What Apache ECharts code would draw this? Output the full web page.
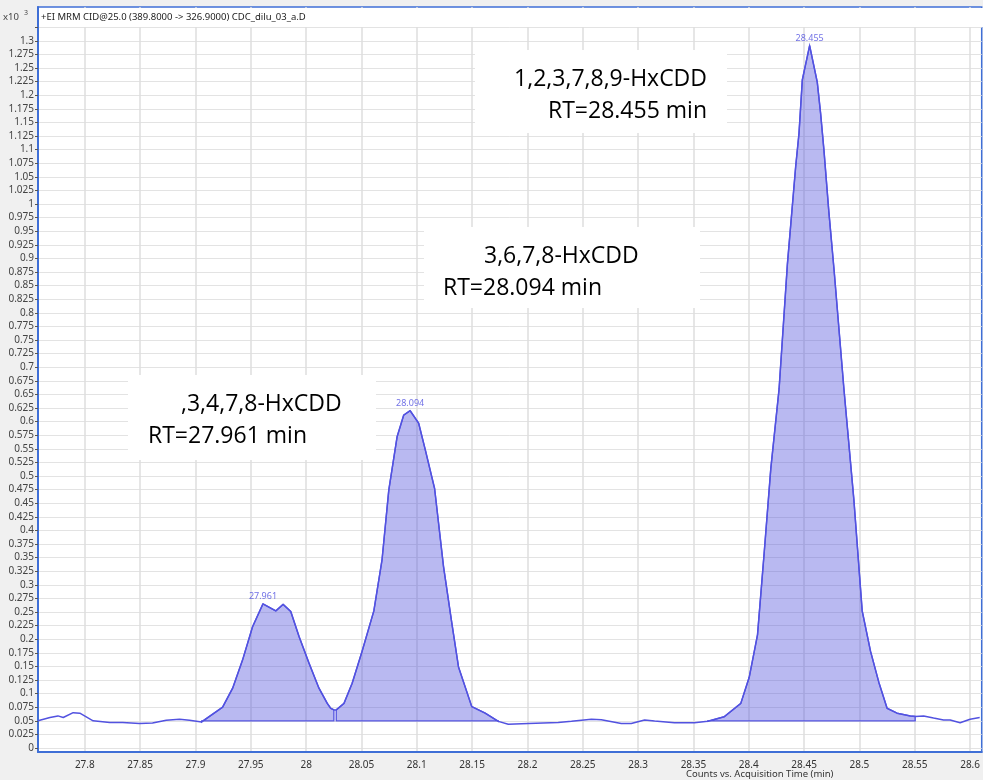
<!DOCTYPE html>
<html>
<head>
<meta charset="utf-8">
<script src="https://cdn.jsdelivr.net/npm/echarts@6/dist/echarts.min.js"></script>
<style>
  html, body { margin: 0; padding: 0; background: #f0f0f0; }
  #chart { width: 983px; height: 780px; }
</style>
</head>
<body>
<div id="chart"></div>
<script>
// Acquisition time (min) of each trace point
const times = [
  27.7577, 27.7685, 27.7757, 27.7805, 27.7895, 27.7955, 27.8075, 27.8225, 27.8342, 27.8495, 27.8612, 27.8736, 27.8856, 27.8946, 27.9056,
  27.9245, 27.9336, 27.9426, 27.9516, 27.961, 27.9726, 27.9792, 27.9861, 27.9936, 28.0026, 28.0116, 28.0191, 28.0222, 28.0251,
  28.0272, 28.0342, 28.0416, 28.0506, 28.0612, 28.0686, 28.0747, 28.0822, 28.0882, 28.094, 28.1017, 28.1077, 28.1161, 28.1242, 28.1317, 28.1377, 28.1497, 28.1618, 28.1737,
  28.1827, 28.2008, 28.2278, 28.2398, 28.2578, 28.2668, 28.2848, 28.2938, 28.3059, 28.3149, 28.3329, 28.3509, 28.3629,
  28.3779, 28.3928, 28.4004, 28.4079, 28.4139, 28.4199, 28.4274, 28.4349, 28.4424, 28.4454, 28.4484, 28.455, 28.4619, 28.4649, 28.4679, 28.4724, 28.477, 28.486, 28.495, 28.5025, 28.51, 28.5175, 28.525, 28.534, 28.5459, 28.5504,
  28.558, 28.567, 28.576, 28.582, 28.591, 28.6, 28.6087
];
// Counts (x10^3) at each time
const counts = [
  0.050, 0.056, 0.059, 0.056, 0.065, 0.064, 0.050, 0.047, 0.047, 0.045, 0.046, 0.051, 0.053, 0.051, 0.048,
  0.075, 0.110, 0.162, 0.223, 0.265, 0.252, 0.264, 0.251, 0.205, 0.156, 0.110, 0.082, 0.073, 0.070,
  0.070, 0.082, 0.119, 0.178, 0.252, 0.346, 0.474, 0.572, 0.612, 0.620, 0.597, 0.548, 0.477, 0.333, 0.229, 0.149, 0.076, 0.064, 0.049,
  0.0435, 0.045, 0.047, 0.049, 0.053, 0.052, 0.045, 0.045, 0.0515, 0.0496, 0.0465, 0.0465, 0.049,
  0.0576, 0.082, 0.130, 0.208, 0.358, 0.513, 0.660, 0.889, 1.069, 1.130, 1.228, 1.291, 1.224, 1.167, 1.100, 0.985, 0.881, 0.660, 0.456, 0.252, 0.178, 0.121, 0.073, 0.064, 0.059, 0.058,
  0.059, 0.055, 0.0515, 0.0515, 0.0465, 0.053, 0.056
];

// Integrated peaks: window start/end and baseline level
const peakStart = [27.9056, 28.0272, 28.3629];
const peakEnd = [28.0251, 28.1737, 28.5504];
const peakBase = [0.05, 0.05, 0.05];
// Labelled retention times
const peakRT = [27.961, 28.094, 28.455];

// Axis ticks and visible range
const xTicks = [27.8, 27.85, 27.9, 27.95, 28, 28.05, 28.1, 28.15, 28.2, 28.25, 28.3, 28.35, 28.4, 28.45, 28.5, 28.55, 28.6];
const xRange = [27.7577, 28.6105];
const yRange = [-0.00735, 1.3621];
const yTicks = [];
for (let i = 0; i <= 53; i++) yTicks.push(+(i * 0.025).toFixed(3));
const yLabelMax = 1.3;

const LINE = '#5252e0';
const FILL = 'rgba(80,80,220,0.40)';

const chart = echarts.init(document.getElementById('chart'), null, { renderer: 'canvas' });

const traceData = times.map((t, i) => [t, counts[i]]);
const peakData = peakStart.map((s, i) => [s, peakEnd[i], peakBase[i]]);
const apexData = peakRT.map(t => [t, counts[times.indexOf(t)]]);

chart.setOption({
  backgroundColor: '#f0f0f0',
  animation: false,
  textStyle: { fontFamily: 'Noto Sans' },
  grid: {
    left: 38, right: -2, top: 7, bottom: 28,
    show: true, backgroundColor: '#ffffff', borderColor: '#3f6fd6', borderWidth: 1.5
  },
  xAxis: {
    type: 'value',
    min: xRange[0],
    max: xRange[1],
    axisLine: { show: true, onZero: false, lineStyle: { color: '#3f6fd6', width: 2 } },
    axisTick: { show: false, customValues: xTicks },
    axisLabel: { customValues: xTicks, color: '#333', fontSize: 10, margin: 8, fontFamily: 'Noto Sans' },
    splitLine: { show: true, lineStyle: { color: '#dedede', width: 1.5 } }
  },
  yAxis: {
    type: 'value',
    min: yRange[0],
    max: yRange[1],
    axisLine: { show: true, onZero: false, lineStyle: { color: '#3f6fd6', width: 2 } },
    axisTick: { show: true, length: 3, customValues: yTicks, lineStyle: { color: '#555' } },
    axisLabel: {
      customValues: yTicks.filter(v => v <= yLabelMax),
      color: '#444', fontSize: 10, margin: 4, fontFamily: 'Noto Sans',
      formatter: v => String(v)
    },
    splitLine: { show: true, lineStyle: { color: '#e3e3e3', width: 1 } }
  },
  series: [
    {
      type: 'custom',
      name: 'integrated',
      data: peakData,
      encode: { x: [0, 1], y: 2 },
      z: 2,
      renderItem: function (params, api) {
        const s = api.value(0), e = api.value(1), base = api.value(2);
        const pts = [];
        for (let k = 0; k < times.length; k++) {
          if (times[k] >= s - 1e-9 && times[k] <= e + 1e-9) pts.push(api.coord([times[k], counts[k]]));
        }
        pts.push(api.coord([e, base]));
        pts.push(api.coord([s, base]));
        return {
          type: 'polygon',
          shape: { points: pts },
          style: { fill: FILL, stroke: LINE, lineWidth: 1.3 }
        };
      }
    },
    {
      type: 'line',
      name: 'trace',
      data: traceData,
      showSymbol: false,
      symbol: 'none',
      z: 3,
      lineStyle: { color: LINE, width: 1.5 }
    },
    {
      type: 'scatter',
      name: 'apex',
      data: apexData,
      symbolSize: 0,
      z: 4,
      label: {
        show: true, position: 'top', distance: 3,
        color: '#4d4de0', fontSize: 9, fontFamily: 'Noto Sans',
        formatter: p => p.value[0].toFixed(3)
      }
    }
  ],
  graphic: [
    // header band of the trace pane
    { type: 'rect', left: 39, top: 8, z: 50, shape: { width: 944, height: 19 }, style: { fill: '#ffffff' } },
    { type: 'text', left: 41, top: 12, z: 51, style: { text: '+EI MRM CID@25.0 (389.8000 -> 326.9000) CDC_dilu_03_a.D', fill: '#222', font: '9.5px "Noto Sans"' } },
    { type: 'text', left: 3, top: 12, z: 51, style: { text: 'x10', fill: '#444', font: '9.5px "Noto Sans"' } },
    { type: 'text', left: 24, top: 9, z: 51, style: { text: '3', fill: '#444', font: '7px "Noto Sans"' } },
    { type: 'text', left: 686, top: 769, z: 51, style: { text: 'Counts vs. Acquisition Time (min)', fill: '#333', font: '9.5px "Noto Sans"', align: 'center' } },

    // compound annotations
    { type: 'rect', left: 475, top: 50, z: 40, shape: { width: 252, height: 83 }, style: { fill: '#ffffff' } },
    { type: 'text', x: 707, y: 79, z: 41, style: { text: '1,2,3,7,8,9-HxCDD', fill: '#000', font: '23px "Open Sans"', align: 'right', verticalAlign: 'middle' } },
    { type: 'text', x: 707, y: 111, z: 41, style: { text: 'RT=28.455 min', fill: '#000', font: '23px "Open Sans"', align: 'right', verticalAlign: 'middle' } },

    { type: 'rect', left: 424, top: 227, z: 40, shape: { width: 276, height: 81 }, style: { fill: '#ffffff' } },
    { type: 'text', x: 484, y: 256, z: 41, style: { text: '3,6,7,8-HxCDD', fill: '#000', font: '23px "Open Sans"', align: 'left', verticalAlign: 'middle' } },
    { type: 'text', x: 443, y: 288, z: 41, style: { text: 'RT=28.094 min', fill: '#000', font: '23px "Open Sans"', align: 'left', verticalAlign: 'middle' } },

    { type: 'rect', left: 128, top: 375, z: 40, shape: { width: 248, height: 85 }, style: { fill: '#ffffff' } },
    { type: 'text', x: 181, y: 404, z: 41, style: { text: ',3,4,7,8-HxCDD', fill: '#000', font: '23px "Open Sans"', align: 'left', verticalAlign: 'middle' } },
    { type: 'text', x: 148, y: 436, z: 41, style: { text: 'RT=27.961 min', fill: '#000', font: '23px "Open Sans"', align: 'left', verticalAlign: 'middle' } }
  ]
});
</script>
</body>
</html>
